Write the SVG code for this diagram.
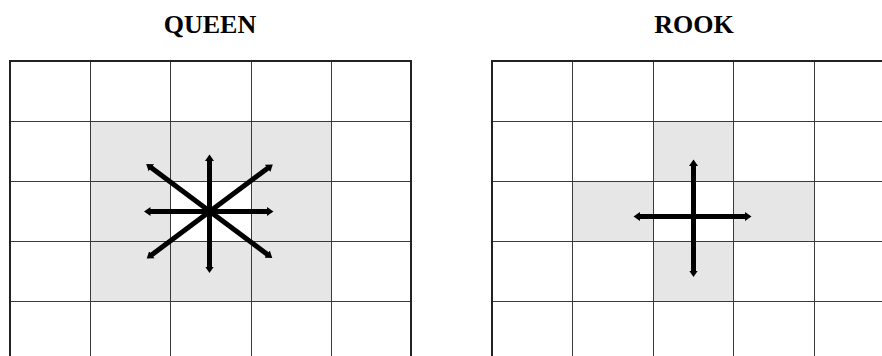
<svg xmlns="http://www.w3.org/2000/svg" width="882" height="356" viewBox="0 0 882 356">
<style>
.title{font-family:"Liberation Serif","Times New Roman",serif;font-weight:bold;font-size:26px;fill:#000;text-anchor:middle}
.shade{fill:#e6e6e6}
.grid line{stroke:#3a3a3a;stroke-width:1}
.border{stroke:#222;stroke-width:2;fill:none}
.arrow{stroke:#000;stroke-width:5;fill:none;marker-start:url(#ah);marker-end:url(#ah)}
</style>
<defs>
<marker id="ah" markerUnits="userSpaceOnUse" viewBox="0 -6 8 12" refX="0.5" refY="0" markerWidth="8" markerHeight="12" orient="auto-start-reverse">
<path d="M0,-4.5 L6.5,0 L0,4.5 Z" fill="#000"/>
</marker>
</defs>
<rect width="882" height="356" fill="#fff"/>

<g id="queen">
<text class="title" x="210" y="33">QUEEN</text>
<g id="queen-shade">
<rect class="shade" x="90" y="121.5" width="241" height="180"/>
<rect x="170.5" y="181.5" width="80.5" height="60" fill="#fff"/>
</g>
<g class="grid">
<line x1="90.5" y1="61" x2="90.5" y2="356"/>
<line x1="170.5" y1="61" x2="170.5" y2="356"/>
<line x1="251.5" y1="61" x2="251.5" y2="356"/>
<line x1="331.5" y1="61" x2="331.5" y2="356"/>
<line x1="10" y1="121.5" x2="411" y2="121.5"/>
<line x1="10" y1="181.5" x2="411" y2="181.5"/>
<line x1="10" y1="241.5" x2="411" y2="241.5"/>
<line x1="10" y1="301.5" x2="411" y2="301.5"/>
</g>
<path class="border" d="M10,357 V61 H411 V357"/>
</g>

<g id="rook">
<text class="title" x="694" y="33">ROOK</text>
<g id="rook-shade">
<rect class="shade" x="653" y="121.5" width="80.5" height="180"/>
<rect class="shade" x="572.5" y="181.5" width="241.5" height="60"/>
<rect x="653" y="181.5" width="80.5" height="60" fill="#fff"/>
</g>
<g class="grid">
<line x1="572.5" y1="61" x2="572.5" y2="356"/>
<line x1="653.5" y1="61" x2="653.5" y2="356"/>
<line x1="733.5" y1="61" x2="733.5" y2="356"/>
<line x1="814.5" y1="61" x2="814.5" y2="356"/>
<line x1="492" y1="121.5" x2="882" y2="121.5"/>
<line x1="492" y1="181.5" x2="882" y2="181.5"/>
<line x1="492" y1="241.5" x2="882" y2="241.5"/>
<line x1="492" y1="301.5" x2="882" y2="301.5"/>
</g>
<path class="border" d="M492,357 V61 H883"/>
</g>

<g id="connectors">
<line class="arrow" x1="150" y1="211.5" x2="267.5" y2="211.5"/>
<line class="arrow" x1="209.5" y1="160.5" x2="209.5" y2="267"/>
<line class="arrow" x1="151" y1="167.5" x2="267.5" y2="254.5"/>
<line class="arrow" x1="151.5" y1="255" x2="268" y2="168"/>
<line class="arrow" x1="639.5" y1="216.5" x2="745.5" y2="216.5"/>
<line class="arrow" x1="693.5" y1="165.5" x2="693.5" y2="271"/>
</g>
</svg>
